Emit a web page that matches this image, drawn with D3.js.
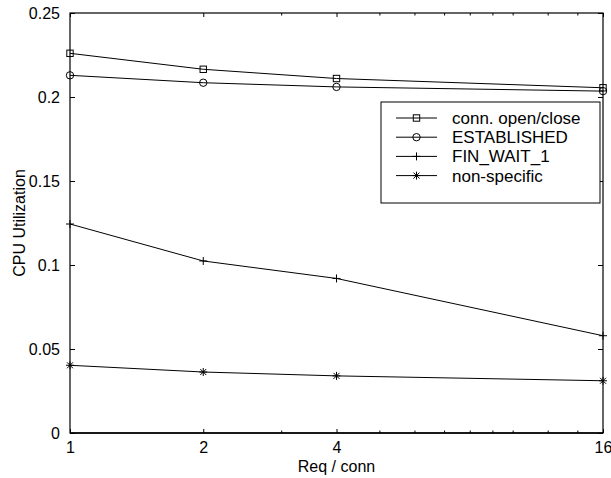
<!DOCTYPE html>
<html><head><meta charset="utf-8">
<script src="https://cdn.jsdelivr.net/npm/d3@7"></script>
<style>body{margin:0;background:#fff}svg{display:block}text{font-family:"Liberation Sans",Arial,sans-serif;fill:#000}</style>
</head><body><svg id="c" width="611" height="478"></svg>
<script>
const xValues = [1, 2, 4, 16];
const seriesNames = ["conn. open/close", "ESTABLISHED", "FIN_WAIT_1", "non-specific"];
const seriesMarkers = ["square", "circle", "plus", "star"];
const connOpenClose = [0.226, 0.2165, 0.211, 0.2055];
const established = [0.2129, 0.2085, 0.206, 0.2035];
const finWait1 = [0.1244, 0.1024, 0.092, 0.0579];
const nonSpecific = [0.0403, 0.0363, 0.034, 0.0311];
const yTicks = [0, 0.05, 0.1, 0.15, 0.2, 0.25];
const yTickLabels = ["0", "0.05", "0.1", "0.15", "0.2", "0.25"];
const xTicks = [1, 2, 4, 16];
const xTickLabels = ["1", "2", "4", "16"];
const xMinorTicks = [3, 5, 6, 7, 8, 9, 10, 12, 14];
const xTitle = "Req / conn";
const yTitle = "CPU Utilization";

const series = [connOpenClose, established, finWait1, nonSpecific];
const L = 70, R = 603, T = 13, B = 433;
const svg = d3.select("#c");
const x = d3.scaleLog().base(2).domain([1, 16]).range([L, R]);
const y = d3.scaleLinear().domain([0, 0.25]).range([B, T]);

const g = svg.append("g");
// box
g.append("rect").attr("x", L).attr("y", T).attr("width", R - L).attr("height", B - T)
  .attr("fill", "none").attr("stroke", "#000").attr("stroke-width", 1.2);
g.append("line").attr("x1", L).attr("x2", R).attr("y1", B).attr("y2", B).attr("stroke", "#000").attr("stroke-width", 1.6);

// y axis ticks (left & right)
const yAxL = d3.axisLeft(y).tickValues(yTicks).tickFormat((d, i) => yTickLabels[i]).tickSizeInner(-5).tickSizeOuter(0).tickPadding(10);
const gyl = g.append("g").attr("transform", `translate(${L},0)`).call(yAxL);
gyl.select(".domain").remove();
gyl.selectAll("text").style("font-size", "16px").attr("font-family", "Liberation Sans, Arial, sans-serif");
const yAxR = d3.axisRight(y).tickValues(yTicks).tickFormat("").tickSizeInner(-5).tickSizeOuter(0);
const gyr = g.append("g").attr("transform", `translate(${R},0)`).call(yAxR);
gyr.select(".domain").remove();

// x axis ticks (bottom & top)
const xAxB = d3.axisBottom(x).tickValues(xTicks).tickFormat((d, i) => xTickLabels[i]).tickSizeInner(-4).tickSizeOuter(0).tickPadding(9);
const gxb = g.append("g").attr("transform", `translate(0,${B})`).call(xAxB);
gxb.select(".domain").remove();
gxb.selectAll("text").style("font-size", "16px").attr("font-family", "Liberation Sans, Arial, sans-serif");
const xAxBm = d3.axisBottom(x).tickValues(xMinorTicks).tickFormat("").tickSizeInner(-2.5).tickSizeOuter(0);
g.append("g").attr("transform", `translate(0,${B})`).call(xAxBm).select(".domain").remove();
const xAxT = d3.axisTop(x).tickValues(xTicks).tickFormat("").tickSizeInner(-4).tickSizeOuter(0);
g.append("g").attr("transform", `translate(0,${T})`).call(xAxT).select(".domain").remove();
const xAxTm = d3.axisTop(x).tickValues(xMinorTicks).tickFormat("").tickSizeInner(-2.5).tickSizeOuter(0);
g.append("g").attr("transform", `translate(0,${T})`).call(xAxTm).select(".domain").remove();
g.selectAll(".tick line").attr("stroke", "#000");

// titles
svg.append("text").attr("x", (L + R) / 2).attr("y", 472).attr("text-anchor", "middle").style("font-size", "16px").text(xTitle);
svg.append("text").attr("transform", `translate(25,${(T + B) / 2}) rotate(-90)`).attr("text-anchor", "middle").style("font-size", "16px").text(yTitle);

function drawMarker(sel, type, cx, cy) {
  const s = 3.2;
  if (type === "square") sel.append("rect").attr("x", cx - s).attr("y", cy - s).attr("width", 2 * s).attr("height", 2 * s).attr("fill", "none").attr("stroke", "#000");
  else if (type === "circle") sel.append("circle").attr("cx", cx).attr("cy", cy).attr("r", 3.7).attr("fill", "none").attr("stroke", "#000");
  else if (type === "plus") sel.append("path").attr("d", `M${cx - 4},${cy}H${cx + 4}M${cx},${cy - 4}V${cy + 4}`).attr("stroke", "#000");
  else if (type === "star") sel.append("path").attr("d", `M${cx - 4},${cy}H${cx + 4}M${cx},${cy - 4}V${cy + 4}M${cx - 3},${cy - 3}L${cx + 3},${cy + 3}M${cx - 3},${cy + 3}L${cx + 3},${cy - 3}`).attr("stroke", "#000");
}

const line = d3.line().x((d, i) => x(xValues[i])).y(d => y(d));
series.forEach((vals, si) => {
  const sg = g.append("g");
  sg.append("path").attr("d", line(vals)).attr("fill", "none").attr("stroke", "#000").attr("stroke-width", 1);
  vals.forEach((v, i) => drawMarker(sg, seriesMarkers[si], x(xValues[i]), y(v)));
});

// legend
const lg = svg.append("g");
lg.append("rect").attr("x", 381).attr("y", 102).attr("width", 219).attr("height", 101).attr("fill", "#fff").attr("stroke", "#000").attr("stroke-width", 1);
seriesNames.forEach((name, i) => {
  const cy = 118 + i * 19.2;
  lg.append("line").attr("x1", 396).attr("x2", 437).attr("y1", cy).attr("y2", cy).attr("stroke", "#000");
  drawMarker(lg, seriesMarkers[i], 416.5, cy);
  lg.append("text").attr("x", 452).attr("y", cy).attr("dy", "0.35em").style("font-size", "17px").text(name);
});
</script></body></html>
